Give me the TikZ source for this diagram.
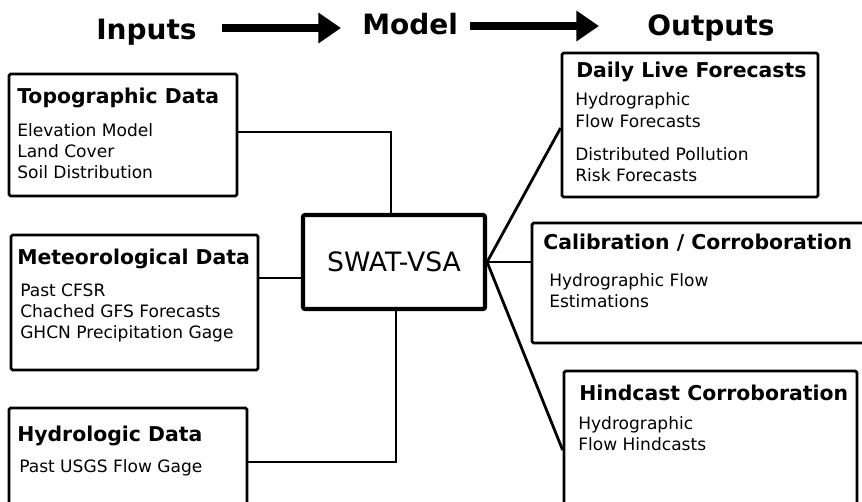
\documentclass[tikz,border=0pt]{standalone}
\usepackage{fontspec}
\setmainfont{DejaVu Sans}
\usetikzlibrary{fit,arrows.meta}

\tikzset{
  box/.style={draw, line width=2.1pt, rounded corners=1.2pt, inner sep=0pt},
  model/.style={draw, line width=3.1pt, rounded corners=1.5pt, inner sep=0pt},
  conn/.style={line width=2.1pt},
  title/.style={anchor=base west, inner sep=0pt, font=\bfseries\fontsize{15.3pt}{18pt}\selectfont},
  body/.style={anchor=base west, inner sep=0pt, font=\fontsize{12.8pt}{15pt}\selectfont},
  header/.style={anchor=base west, inner sep=0pt, font=\bfseries\fontsize{21pt}{25pt}\selectfont},
  hdrarrow/.style={line width=5.6pt, -{Triangle[length=17pt, width=22pt]}},
}

\begin{document}
\begin{tikzpicture}[x=0.75pt, y=-0.75pt]
\useasboundingbox (0,0) rectangle (862,501);
\clip (0,0) rectangle (862,501);

% ---- header row ----
\node[header] (inputs) at (96,39) {Inputs};
\node[header] (model) at (362,34) {Model};
\node[header] (outputs) at (647,35) {Outputs};
\coordinate (a1s) at (222,28);
\coordinate (a1e) at (341,28);
\coordinate (a2s) at (470,26);
\coordinate (a2e) at (599,26);
\draw[hdrarrow] (a1s) -- (a1e);
\draw[hdrarrow] (a2s) -- (a2e);

% ---- input boxes ----
\node[box, fit={(9,74) (237,196)}] (topo) {};
\node[title] (topoT) at (17,103) {Topographic Data};
\node[body] (topo1) at (17,136) {Elevation Model};
\node[body] (topo2) at (17,157) {Land Cover};
\node[body] (topo3) at (17,178) {Soil Distribution};

\node[box, fit={(11,235) (258,370)}] (meteo) {};
\node[title] (meteoT) at (17,264) {Meteorological Data};
\node[body] (meteo1) at (20,296) {Past CFSR};
\node[body] (meteo2) at (20,317) {Chached GFS Forecasts};
\node[body] (meteo3) at (20,338) {GHCN Precipitation Gage};

\node[box, fit={(9,408) (247,520)}] (hydro) {};
\node[title] (hydroT) at (17,441) {Hydrologic Data};
\node[body] (hydro1) at (19,472) {Past USGS Flow Gage};

% ---- model ----
\node[model, fit={(303,215) (485,309)}] (swat) {};
\node[font=\fontsize{20pt}{24pt}\selectfont, inner sep=0pt] (swatT) at (394,262) {SWAT-VSA};

% ---- output boxes ----
\node[box, fit={(562,53) (818,197)}] (daily) {};
\node[title] (dailyT) at (576,77) {Daily Live Forecasts};
\node[body] (daily1) at (575,105) {Hydrographic};
\node[body] (daily2) at (575,127) {Flow Forecasts};
\node[body] (daily3) at (575,160) {Distributed Pollution};
\node[body] (daily4) at (575,181) {Risk Forecasts};

\node[box, fit={(532,223) (880,343)}] (calib) {};
\node[title] (calibT) at (543,249) {Calibration / Corroboration};
\node[body] (calib1) at (549,286) {Hydrographic Flow};
\node[body] (calib2) at (549,307) {Estimations};

\node[box, fit={(564,371) (857,520)}] (hind) {};
\node[title] (hindT) at (579,400) {Hindcast Corroboration};
\node[body] (hind1) at (578,429) {Hydrographic};
\node[body] (hind2) at (578,450) {Flow Hindcasts};

% ---- connectors ----
\coordinate (tj) at (391,132);
\coordinate (mj) at (0,278);
\coordinate (hj) at (396,462);
\coordinate (dj) at (0,128);
\coordinate (cj) at (0,262);
\coordinate (nj) at (0,450);
\draw[conn] (topo.east |- tj) -- (tj) -- (swat.north -| tj);
\draw[conn] (meteo.east |- mj) -- (swat.west |- mj);
\draw[conn] (hydro.east |- hj) -- (hj) -- (swat.south -| hj);
\draw[conn] (swat.east) -- (daily.west |- dj);
\draw[conn] (swat.east) -- (calib.west |- cj);
\draw[conn] (swat.east) -- (hind.west |- nj);
\end{tikzpicture}
\end{document}
